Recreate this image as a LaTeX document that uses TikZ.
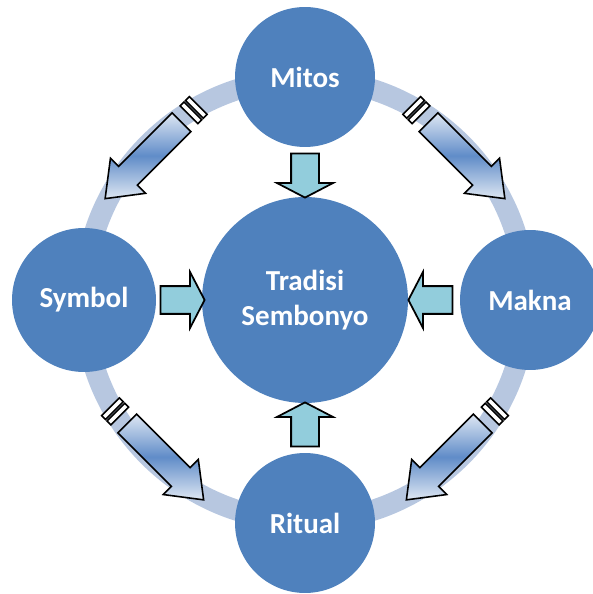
\documentclass[tikz,border=0pt]{standalone}
\usepackage{fontspec}
\setmainfont{Carlito}
\usepackage{tikz}
\usetikzlibrary{shapes.arrows,calc,positioning}
\definecolor{bleuNoeud}{RGB}{79,129,189}
\definecolor{bleuAnneau}{RGB}{183,199,224}
\definecolor{cyanFleche}{RGB}{146,205,220}
\definecolor{bleuClair}{RGB}{222,231,243}
\definecolor{bleuMoyen}{RGB}{96,140,200}

\begin{document}
\begin{tikzpicture}[x=0.02cm,y=0.02cm,
  rond/.style={circle,fill=bleuNoeud,text=white,inner sep=0pt,align=center,
               font=\fontsize{16.5}{19.5}\selectfont\bfseries},
  petite/.style={single arrow,draw=black,line width=1pt,fill=cyanFleche,
                 inner xsep=0pt,inner ysep=0.26cm,minimum height=0.88cm,
                 single arrow head extend=0.28cm,single arrow tip angle=125,
                 single arrow head indent=0pt},
  grande/.style={single arrow,draw=black,line width=0.9pt,
                 top color=bleuClair,bottom color=bleuClair,middle color=bleuMoyen,
                 inner xsep=0pt,inner ysep=0.25cm,minimum height=2.16cm,
                 single arrow head extend=0.23cm,single arrow tip angle=75,
                 single arrow head indent=0pt},
  bague/.style={draw=black,line width=0.9pt,fill=white}]

  \useasboundingbox (-305,-294) rectangle (287,300);

  % Anneau
  \draw[bleuAnneau,line width=0.42cm] (0,0) circle[radius=221];

  % Cercles
  \node[rond,minimum size=4.12cm] (tradisi) at (0,0)    {Tradisi\\Sembonyo};
  \node[rond,minimum size=2.8cm]  (mitos)   at (0,223)  {Mitos};
  \node[rond,minimum size=2.88cm] (symbol)  at (-221,0) {Symbol};
  \node[rond,minimum size=2.8cm]  (makna)   at (225,0)  {Makna};
  \node[rond,minimum size=2.8cm]  (ritual)  at (0,-223) {Ritual};

  % Flèches vers le centre
  \node[petite,rotate=-90] (fm) at ($(mitos.south)!0.5!(tradisi.north)$)  {};
  \node[petite]            (fs) at ($(symbol.east)!0.5!(tradisi.west)$)   {};
  \node[petite,rotate=180] (fk) at ($(makna.west)!0.5!(tradisi.east)$)    {};
  \node[petite,rotate=90]  (fr) at ($(ritual.north)!0.5!(tradisi.south)$) {};

  % Flèches sur l'anneau
  \foreach \a/\d in {135/225,45/-45,225/-45,-45/225}
  {
    \begin{scope}[shift={(\a:213)},rotate=\d,transform shape]
      \draw[bague] (-62,-12.5) rectangle (-56.5,12.5);
      \draw[bague] (-54.5,-12.5) rectangle (-49,12.5);
      \node[grande] at (7,0) {};
    \end{scope}
  }
\end{tikzpicture}
\end{document}
